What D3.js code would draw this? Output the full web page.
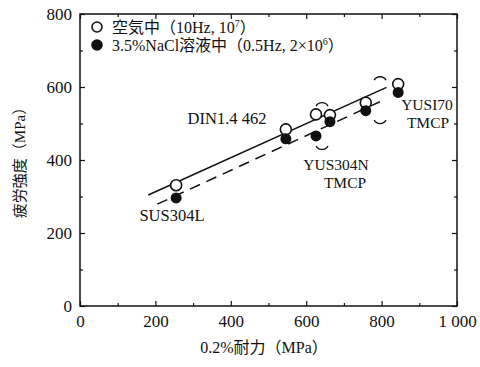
<!DOCTYPE html>
<html>
<head>
<meta charset="utf-8">
<script src="https://d3js.org/d3.v7.min.js"></script>
<style>
  body { margin: 0; background: #fff; }
  text { font-family: "Liberation Serif", "Noto Sans CJK JP", serif; fill: #111; }
  .axis path { display: none; }
  .axis line { stroke: #111; stroke-width: 1.2px; }
  .axis text { font-size: 17px; }
</style>
</head>
<body>
<svg id="chart" width="480" height="367"></svg>
<script>
// values
const materials = ["SUS304L", "DIN1.4 462", "YUS304N", "YUS304N", "YUS170", "YUS170"];
const proofStress = [255, 546, 626, 663, 758, 844];
const airStrength = [331, 484, 525, 523, 557, 608];
const naclStrength = [296, 458, 466, 505, 535, 585];

const airFit = [[181, 304], [813, 599]];
const naclFit = [[205, 279], [809, 566]];

// groups marked with the curved brackets [x centre, y centre]
const brackets = [[642, 493], [796, 564]];

const xTicks = [0, 200, 400, 600, 800, 1000];
const xTickLabels = ["0", "200", "400", "600", "800", "1 000"];
const yTicks = [0, 200, 400, 600, 800];
const minorX = [100, 300, 500, 700, 900];
const minorY = [100, 300, 500, 700];

const legendLabels = ["空気中（10Hz, 10", "3.5%NaCl溶液中（0.5Hz, 2×10"];
const legendExp = ["7", "6"];

const svg = d3.select("#chart");
const x = d3.scaleLinear().domain([0, 1000]).range([80, 457]);
const y = d3.scaleLinear().domain([0, 800]).range([306, 14]);

// frame
svg.append("rect")
  .attr("x", x(0)).attr("y", y(800))
  .attr("width", x(1000) - x(0)).attr("height", y(0) - y(800))
  .attr("fill", "none").attr("stroke", "#111").attr("stroke-width", 1.5);

// major ticks with labels (pointing inward)
svg.append("g").attr("class", "axis")
  .attr("transform", "translate(0," + y(0) + ")")
  .call(d3.axisBottom(x).tickValues(xTicks).tickSize(-5).tickPadding(9)
    .tickFormat((d, i) => xTickLabels[i]));
svg.append("g").attr("class", "axis")
  .attr("transform", "translate(" + x(0) + ",0)")
  .call(d3.axisLeft(y).tickValues(yTicks).tickSize(-5).tickPadding(8));
svg.append("g").attr("class", "axis")
  .attr("transform", "translate(0," + y(800) + ")")
  .call(d3.axisTop(x).tickValues(xTicks).tickSize(-5).tickFormat(""));
svg.append("g").attr("class", "axis")
  .attr("transform", "translate(" + x(1000) + ",0)")
  .call(d3.axisRight(y).tickValues(yTicks).tickSize(-5).tickFormat(""));

// minor ticks
svg.append("g").attr("class", "axis")
  .attr("transform", "translate(0," + y(0) + ")")
  .call(d3.axisBottom(x).tickValues(minorX).tickSize(-3).tickFormat(""));
svg.append("g").attr("class", "axis")
  .attr("transform", "translate(0," + y(800) + ")")
  .call(d3.axisTop(x).tickValues(minorX).tickSize(-3).tickFormat(""));
svg.append("g").attr("class", "axis")
  .attr("transform", "translate(" + x(0) + ",0)")
  .call(d3.axisLeft(y).tickValues(minorY).tickSize(-3).tickFormat(""));
svg.append("g").attr("class", "axis")
  .attr("transform", "translate(" + x(1000) + ",0)")
  .call(d3.axisRight(y).tickValues(minorY).tickSize(-3).tickFormat(""));

// axis titles
svg.append("text")
  .attr("x", 264).attr("y", 353)
  .attr("text-anchor", "middle").attr("font-size", 16)
  .text("0.2%耐力（MPa）");
svg.append("text")
  .attr("transform", "translate(25,159) rotate(-90)")
  .attr("text-anchor", "middle").attr("font-size", 15)
  .text("疲労強度（MPa）");

// regression lines
const line = d3.line().x(d => x(d[0])).y(d => y(d[1]));
svg.append("path").datum(airFit)
  .attr("d", line).attr("stroke", "#111").attr("stroke-width", 1.5).attr("fill", "none");
svg.append("path").datum(naclFit)
  .attr("d", line).attr("stroke", "#111").attr("stroke-width", 1.5)
  .attr("stroke-dasharray", "11,7").attr("fill", "none");

// brackets: small arcs above and below each grouped pair
const bracketArcs = [];
brackets.forEach(b => {
  const cx = x(b[0]), cy = y(b[1]);
  bracketArcs.push("M" + (cx - 6) + "," + (cy - 20) + " A7,7 0 0 1 " + (cx + 6) + "," + (cy - 20));
  bracketArcs.push("M" + (cx - 6) + "," + (cy + 20) + " A7,7 0 0 0 " + (cx + 6) + "," + (cy + 20));
});
svg.selectAll("path.bracket").data(bracketArcs)
  .join("path")
  .attr("class", "bracket")
  .attr("d", d => d)
  .attr("fill", "none").attr("stroke", "#111").attr("stroke-width", 1.3);

// points
svg.selectAll("circle.air").data(proofStress)
  .join("circle")
  .attr("class", "air")
  .attr("cx", d => x(d))
  .attr("cy", (d, i) => y(airStrength[i]))
  .attr("r", 5.5)
  .attr("fill", "#fff").attr("stroke", "#111").attr("stroke-width", 1.6);
svg.selectAll("circle.nacl").data(proofStress)
  .join("circle")
  .attr("class", "nacl")
  .attr("cx", d => x(d))
  .attr("cy", (d, i) => y(naclStrength[i]))
  .attr("r", 5.5)
  .attr("fill", "#111");

// material labels
const labels = [
  { t: "SUS304L", x: 172, y: 221, s: 16.5 },
  { t: "DIN1.4 462", x: 227, y: 124, s: 16.5 },
  { t: "YUS304N", x: 336, y: 170, s: 15.5 },
  { t: "TMCP", x: 345, y: 188, s: 15.5 },
  { t: "YUSI70", x: 427, y: 110, s: 15.5 },
  { t: "TMCP", x: 428, y: 128, s: 15.5 }
];
svg.selectAll("text.mat").data(labels)
  .join("text")
  .attr("class", "mat")
  .attr("x", d => d.x).attr("y", d => d.y)
  .attr("text-anchor", "middle").attr("font-size", d => d.s)
  .text(d => d.t);

// legend
const legend = svg.append("g");
legendLabels.forEach((lab, i) => {
  const ly = 27 + i * 18;
  legend.append("circle")
    .attr("cx", 97).attr("cy", ly).attr("r", 5)
    .attr("fill", i === 0 ? "#fff" : "#111")
    .attr("stroke", "#111").attr("stroke-width", 1.6);
  const t = legend.append("text")
    .attr("x", 112).attr("y", ly + 5.5)
    .attr("font-size", 16);
  t.append("tspan").text(lab);
  t.append("tspan").attr("font-size", 10).attr("dy", -6).text(legendExp[i]);
  t.append("tspan").attr("dy", 6).text("）");
});
</script>
</body>
</html>
